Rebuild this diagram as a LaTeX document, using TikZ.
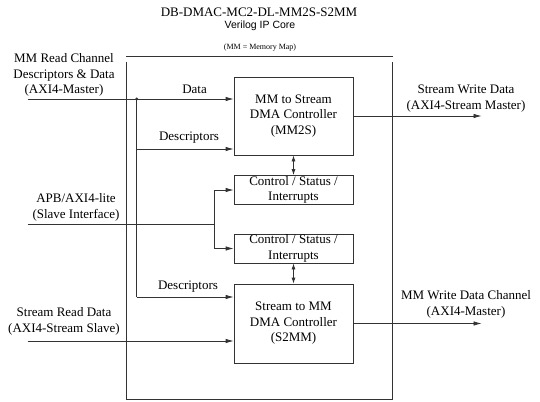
\documentclass[tikz,border=0pt]{standalone}
\usepackage{fontspec}
\setmainfont{Liberation Serif}
\newfontfamily\arialfont{Liberation Sans}
\usetikzlibrary{arrows.meta}
\definecolor{linegray}{HTML}{333333}
\begin{document}
\begin{tikzpicture}[x=1pt,y=-1pt,
  ln/.style={draw=linegray,line width=0.75pt},
  arr/.style={ln,-{Latex[length=8pt,width=4.5pt]}},
  darr/.style={ln,{Latex[length=6pt,width=4pt]}-{Latex[length=6pt,width=4pt]}},
  blk/.style={ln,fill=white,inner sep=0pt,align=center,font=\fontsize{13}{15.5}\selectfont},
  lbl/.style={inner sep=0pt,align=center,font=\fontsize{13}{15.5}\selectfont}]
\useasboundingbox (0,0) rectangle (540,401);
% frame
\coordinate (ftl) at (126,56.7);
\coordinate (ftr) at (392.7,56.7);
\coordinate (fl) at (126,62);
\coordinate (fr) at (392.7,62);
\coordinate (fbl) at (126,399.5);
\coordinate (fbr) at (392.7,399.5);
\draw[ln] (ftl) -- (ftr);
\draw[ln] (fl) -- (fbl) -- (fbr) -- (fr);
% titles
\node[lbl] (title) at (259,12.5) {DB-DMAC-MC2-DL-MM2S-S2MM};
\node[inner sep=0pt,font=\arialfont\fontsize{10.5}{12}\selectfont] (sub) at (260,26) {Verilog IP Core};
\node[inner sep=0pt,font=\fontsize{8}{9}\selectfont] (mmnote) at (260,48) {(MM = Memory Map)};
% blocks
\node[blk,minimum width=119pt,minimum height=78pt] (mm2s) at (293.5,116) {MM to Stream\\DMA Controller\\(MM2S)};
\node[blk,minimum width=119pt,minimum height=29pt] (ctrl1) at (293.5,190) {Control / Status /\\Interrupts};
\node[blk,minimum width=119pt,minimum height=29pt] (ctrl2) at (293.5,248.5) {Control / Status /\\Interrupts};
\node[blk,minimum width=119pt,minimum height=79pt] (s2mm) at (293.5,323.5) {Stream to MM\\DMA Controller\\(S2MM)};
% outside labels
\node[lbl] (lmm) at (64,75) {MM Read Channel\\Descriptors \& Data\\(AXI4-Master)};
\node[lbl] (lapb) at (76,207.5) {APB/AXI4-lite\\(Slave Interface)};
\node[lbl] (lsr) at (64,321.5) {Stream Read Data\\(AXI4-Stream Slave)};
\node[lbl] (lsw) at (466,98.5) {Stream Write Data\\(AXI4-Stream Master)};
\node[lbl] (lmw) at (466,304.5) {MM Write Data Channel\\(AXI4-Master)};
\node[lbl] (ldata) at (194.6,89) {Data};
\node[lbl] (ldesc1) at (189,138) {Descriptors};
\node[lbl] (ldesc2) at (188,287) {Descriptors};
% connector coordinates
\coordinate (inData) at (27.5,99);
\coordinate (j) at (136.7,99);
\coordinate (d1) at (136.7,149);
\coordinate (d2) at (136.7,297);
\coordinate (apbIn) at (27.5,224.3);
\coordinate (apbJ) at (214,224.3);
\coordinate (srIn) at (27.5,341);
\coordinate (swOut) at (481.5,116);
\coordinate (mwOut) at (481.5,323.5);
% connectors
\draw[arr] (inData) -- (inData -| mm2s.west);
\fill[linegray] (j) circle (1.6pt);
\draw[ln] (j) -- (d2);
\draw[arr] (d1) -- (d1 -| mm2s.west);
\draw[arr] (d2) -- (d2 -| s2mm.west);
\draw[ln] (apbIn) -- (apbJ);
\draw[arr] (apbJ) |- (ctrl1.west);
\draw[arr] (apbJ) |- (ctrl2.west);
\draw[darr] (mm2s.south) -- (ctrl1.north);
\draw[darr] (ctrl2.south) -- (s2mm.north);
\draw[arr] (mm2s.east) -- (swOut);
\draw[arr] (s2mm.east) -- (mwOut);
\draw[arr] (srIn) -- (srIn -| s2mm.west);
\end{tikzpicture}
\end{document}
